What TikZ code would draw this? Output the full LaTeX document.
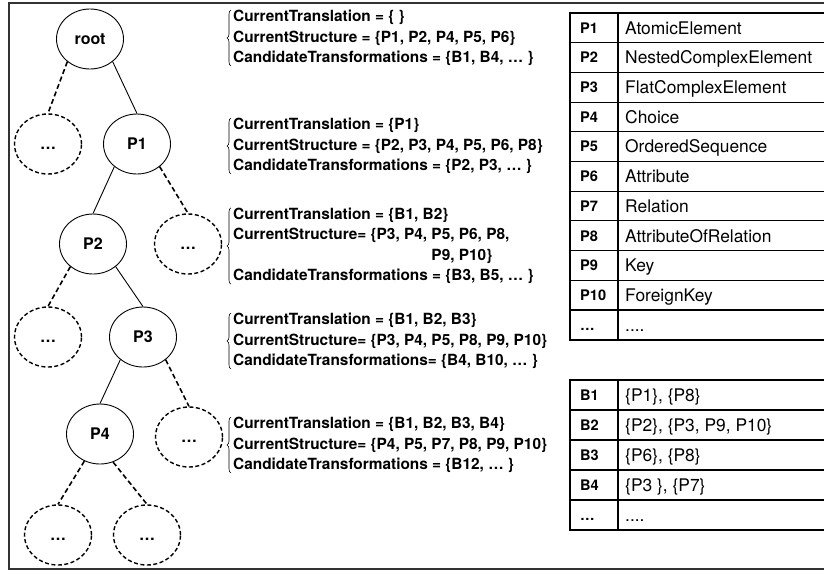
\documentclass[tikz,border=0pt]{standalone}
\usepackage{fontspec}
\setmainfont{TeX Gyre Heros}
\usetikzlibrary{shapes.geometric,decorations.pathreplacing}
\newcommand{\fdots}{.\kern0pt.\kern0pt.\kern0pt.}
\begin{document}
\begin{tikzpicture}[x=1pt,y=-1pt,
  tnode/.style={ellipse,draw,line width=0.9pt,minimum width=67pt,minimum height=60pt,inner sep=0pt,text height=11.5pt,text depth=0pt,font=\fontsize{16}{18}\selectfont\bfseries},
  dnode/.style={tnode,dash pattern=on 4pt off 2.5pt,line width=1.4pt},
  sedge/.style={line width=0.9pt},
  dedge/.style={line width=1.6pt,dash pattern=on 5pt off 3pt},
  info/.style={anchor=west,align=left,inner sep=0pt,font=\fontsize{15.4}{20.5}\selectfont\bfseries},
  brc/.style={decorate,decoration={brace,amplitude=4pt},line width=0.6pt},
  ca/.style={anchor=west,inner sep=0pt,text height=10.5pt,text depth=0pt,font=\fontsize{14.6}{16}\selectfont\bfseries},
  cb/.style={anchor=west,inner sep=0pt,text height=12.5pt,text depth=0pt,font=\fontsize{17.4}{19}\selectfont},
  thin/.style={line width=1.1pt},
  thick/.style={line width=2.4pt}
]
\useasboundingbox (0,0) rectangle (824,574);
\clip (0,0) rectangle (824,574);
\draw[line width=1.4pt,black!80] (9,3) rectangle (840,569);

% tree
\node[tnode] (root) at (90,39) {root};
\node[dnode] (d1) at (48,144) {…};
\node[tnode] (p1) at (137,144) {P1};
\node[dnode] (d2) at (188,244) {…};
\node[tnode] (p2) at (93,244) {P2};
\node[dnode] (d3) at (48,337) {…};
\node[tnode] (p3) at (143,337) {P3};
\node[tnode] (p4) at (100,434) {P4};
\node[dnode] (d4) at (189,437) {…};
\node[dnode] (d5) at (58,535) {…};
\node[dnode] (d6) at (147,535) {…};

\draw[dedge] (root.-135) -- (d1.north);
\draw[sedge] (root.-45) -- (p1.north);
\draw[sedge] (p1.-135) -- (p2.north);
\draw[dedge] (p1.-45) -- (d2.north);
\draw[dedge] (p2.-135) -- (d3.north);
\draw[sedge] (p2.-45) -- (p3.north);
\draw[sedge] (p3.-135) -- (p4.north);
\draw[dedge] (p3.-45) -- (d4.north);
\draw[dedge] (p4.-120) -- (d5.north);
\draw[dedge] (p4.-65) -- (d6.north);

% info blocks
\node[info] (t1) at (233,38) {CurrentTranslation = \{ \}\\CurrentStructure = \{P1, P2, P4, P5, P6\}\\CandidateTransformations = \{B1, B4, … \}};
\node[info] (t2) at (233,146) {CurrentTranslation = \{P1\}\\CurrentStructure = \{P2, P3, P4, P5, P6, P8\}\\CandidateTransformations = \{P2, P3, … \}};
\node[info] (t3) at (233,246) {CurrentTranslation = \{B1, B2\}\\CurrentStructure= \{P3, P4, P5, P6, P8,\\\phantom{CurrentStructure= \{P3, P4, }P9, P10\}\\CandidateTransformations = \{B3, B5, … \}};
\node[info] (t4) at (233,341) {CurrentTranslation = \{B1, B2, B3\}\\CurrentStructure= \{P3, P4, P5, P8, P9, P10\}\\CandidateTransformations= \{B4, B10, … \}};
\node[info] (t5) at (233,445) {CurrentTranslation = \{B1, B2, B3, B4\}\\CurrentStructure= \{P4, P5, P7, P8, P9, P10\}\\CandidateTransformations = \{B12, … \}};
\foreach \t in {t1,t2,t3,t4,t5}
  \draw[brc] ([xshift=-2pt]\t.south west) -- ([xshift=-2pt]\t.north west);

% table P
\foreach \a/\b [count=\i from 0] in {P1/AtomicElement,P2/NestedComplexElement,P3/FlatComplexElement,P4/Choice,P5/OrderedSequence,P6/Attribute,P7/Relation,P8/AttributeOfRelation,P9/Key,P10/ForeignKey,{…}/{\fdots}}{
  \node[ca] (pa\i) at (580,{13+29.7*\i+14.85}) {\a};
  \node[cb] (pb\i) at (625,{13+29.7*\i+14.85}) {\b};
}
\foreach \i in {1,2,3,4,5,6,7,8,9,10} \draw[thin] (570,{13+29.7*\i}) -- (845,{13+29.7*\i});
\draw[thin] (618,13) -- (618,340);
\draw[thick] (570,13) rectangle (845,340);

% table B
\foreach \a/\b [count=\i from 0] in {B1/{\{P1\}, \{P8\}},B2/{\{P2\}, \{P3, P9, P10\}},B3/{\{P6\}, \{P8\}},B4/{\{P3 \}, \{P7\}},{…}/{\fdots}}{
  \node[ca] (ba\i) at (580,{380+30*\i+15}) {\a};
  \node[cb] (bb\i) at (625,{380+30*\i+15}) {\b};
}
\foreach \i in {1,2,3,4} \draw[thin] (570,{380+30*\i}) -- (845,{380+30*\i});
\draw[thin] (618,380) -- (618,530);
\draw[thick] (570,380) rectangle (845,530);
\end{tikzpicture}
\end{document}
